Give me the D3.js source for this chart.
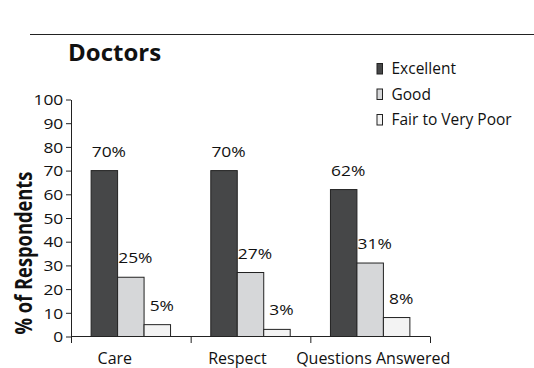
<!DOCTYPE html>
<html><head><meta charset="utf-8">
<script src="https://cdn.jsdelivr.net/npm/d3@7"></script>
<style>
html,body{margin:0;padding:0;background:#fff;}
text{font-family:"Open Sans",sans-serif;fill:#111;}
</style></head>
<body>
<svg id="chart" width="534" height="368"></svg>
<script>
const title = "Doctors";
const categories = ["Care", "Respect", "Questions Answered"];
const seriesNames = ["Excellent", "Good", "Fair to Very Poor"];
const excellent = [70, 70, 62];
const good = [25, 27, 31];
const fair = [5, 3, 8];
const yTicks = [0, 10, 20, 30, 40, 50, 60, 70, 80, 90, 100];
const yTitle = "% of Respondents";

const colors = ["#464748", "#d6d7d9", "#f3f3f3"];
const seriesValues = [excellent, good, fair];
const catLabelDx = [-16, -13, 3];
const sx = 1.2;

const svg = d3.select("#chart");
const plotL = 71, plotR = 430, plotT = 99.5, plotB = 336.5;

svg.append("line").attr("x1", 30).attr("x2", 534).attr("y1", 34.5).attr("y2", 34.5)
  .attr("stroke", "#222").attr("stroke-width", 1.2);

svg.append("text").attr("x", 68).attr("y", 61).attr("font-size", 24).attr("font-weight", 700).text(title);

const x0 = d3.scaleBand().domain(categories).range([plotL, plotR]).paddingInner(0).paddingOuter(0);
const x1 = d3.scaleBand().domain(seriesNames).range([0, x0.bandwidth()]).paddingInner(0).paddingOuter(0.76);
const y = d3.scaleLinear().domain([0, 100]).range([plotB, plotT]);

// y axis
const yAxis = d3.axisLeft(y).tickValues(yTicks).tickSize(5).tickSizeOuter(0);
const gy = svg.append("g").attr("transform", `translate(${plotL},0)`).call(yAxis);
gy.select(".domain").attr("stroke", "#222");
gy.selectAll(".tick line").attr("stroke", "#222");
gy.selectAll(".tick text").attr("x", -7.7 / sx).attr("dy", "0.36em")
  .attr("transform", `scale(${sx},1)`).attr("font-size", 14.5).attr("font-family", "Open Sans").attr("fill", "#111");

// bars
const groups = svg.append("g").selectAll("g").data(categories).join("g")
  .attr("transform", d => `translate(${x0(d)},0)`);
groups.each(function(cat, ci) {
  const g = d3.select(this);
  seriesNames.forEach((s, si) => {
    const v = seriesValues[si][ci];
    g.append("rect").attr("x", x1(s)).attr("y", y(v)).attr("width", x1.bandwidth()).attr("height", y(0) - y(v))
      .attr("fill", colors[si]).attr("stroke", "#222").attr("stroke-width", 1);
    g.append("g").attr("transform", `translate(${x1(s) + x1.bandwidth() / 2 + 4.5},${y(v) - 14})`)
      .append("text").attr("transform", `scale(${sx},1)`).attr("text-anchor", "middle")
      .attr("font-size", 14.5).text(v + "%");
  });
});

// x axis
svg.append("line").attr("x1", plotL).attr("x2", plotR).attr("y1", plotB).attr("y2", plotB)
  .attr("stroke", "#222").attr("stroke-width", 1);
const bounds = categories.map(c => x0(c)).concat([plotR]);
svg.append("g").selectAll("line").data(bounds).join("line")
  .attr("x1", d => d + 0.5).attr("x2", d => d + 0.5).attr("y1", plotB).attr("y2", plotB + 6.5)
  .attr("stroke", "#222").attr("stroke-width", 1);
svg.append("g").selectAll("text").data(categories).join("text")
  .attr("x", (d, i) => x0(d) + x0.bandwidth() / 2 + catLabelDx[i]).attr("y", 364)
  .attr("text-anchor", "middle").attr("font-size", 16).text(d => d);

// y title
svg.append("g").attr("transform", `translate(32.2,253) scale(1.3,1) rotate(-90)`)
  .append("text").attr("text-anchor", "middle").attr("font-size", 18.3).attr("font-weight", 700).text(yTitle);

// legend
const leg = svg.append("g").selectAll("g").data(seriesNames).join("g")
  .attr("transform", (d, i) => `translate(0,${i * 25.5})`);
leg.append("rect").attr("x", 377).attr("y", 63.5).attr("width", 5.5).attr("height", 10.5)
  .attr("fill", (d, i) => colors[i]).attr("stroke", "#222").attr("stroke-width", 1);
leg.append("text").attr("x", 391.5).attr("y", 74).attr("font-size", 15.5).text(d => d);
</script>
</body></html>
